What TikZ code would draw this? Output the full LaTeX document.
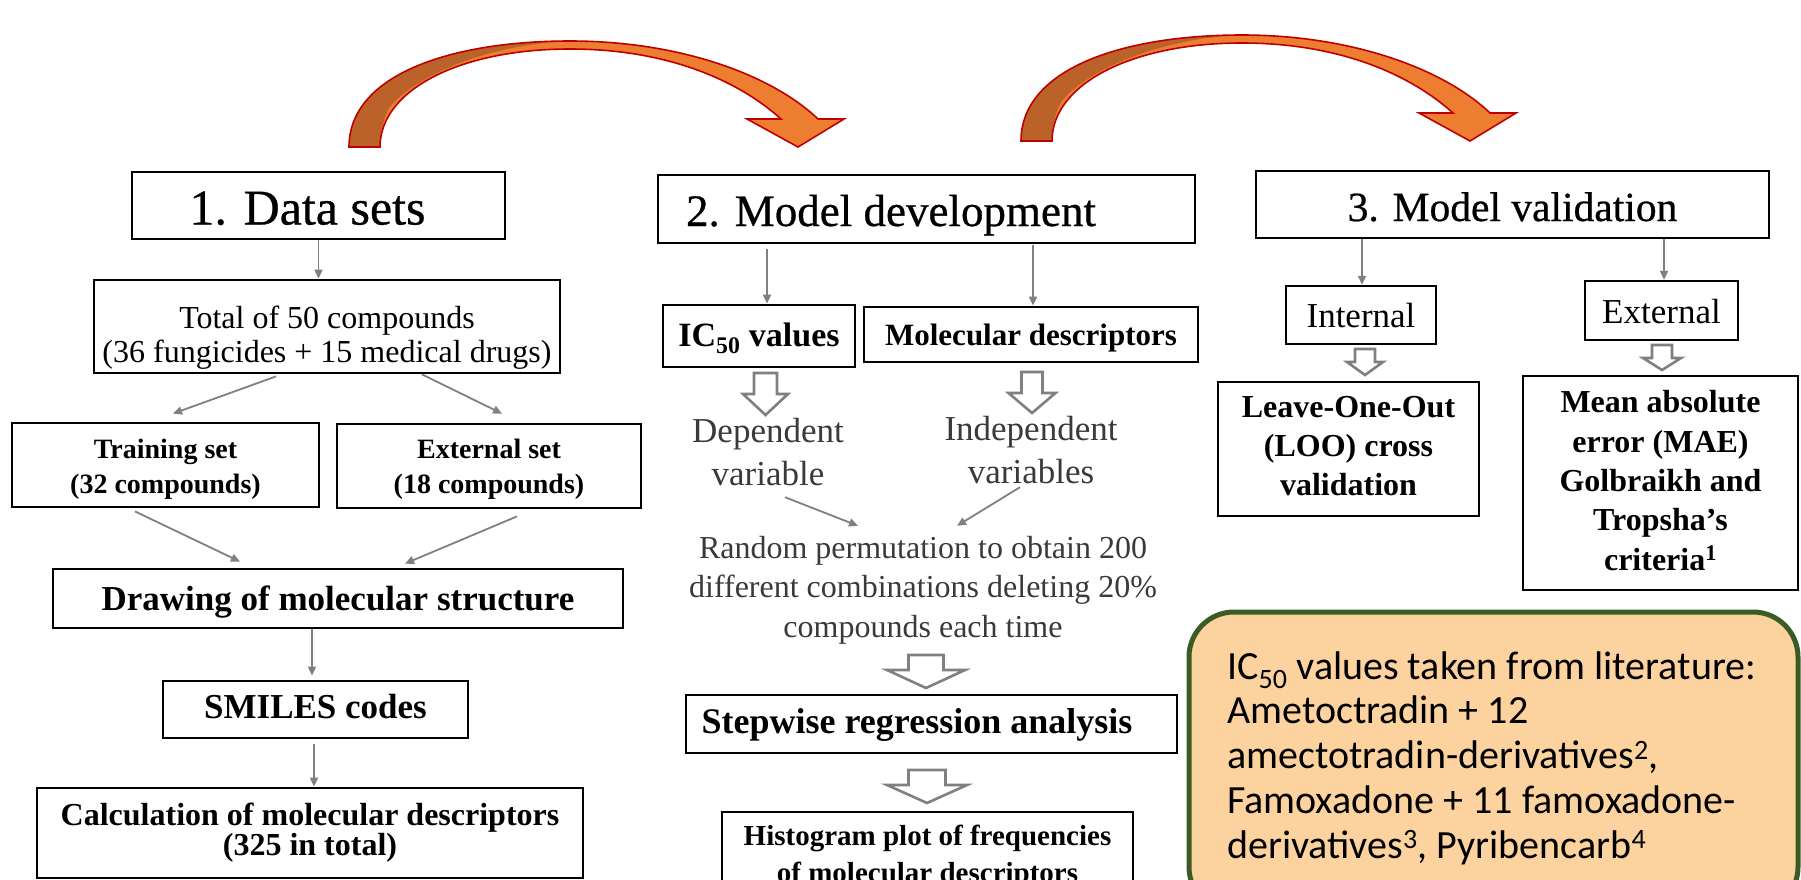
\documentclass[tikz,border=0pt]{standalone}
\usepackage{fontspec}
\setmainfont{Liberation Serif}
\newfontfamily\titlefont{Liberation Serif}[FakeBold=0.6]
\newfontfamily\gillfont{Carlito}
\usetikzlibrary{arrows.meta}
\definecolor{conngray}{HTML}{808080}
\definecolor{arrdark}{HTML}{BA622A}
\definecolor{arrorange}{HTML}{ED7D31}
\definecolor{arrred}{HTML}{C00000}
\definecolor{litfill}{HTML}{FCD39F}
\definecolor{litborder}{HTML}{3B5B25}
\definecolor{softtext}{HTML}{3A3A3A}
\newcommand{\fsz}[2]{\fontsize{#1}{#2}\selectfont}
\newcommand{\curvedarrowshape}[1]{%
  \begin{scope}[shift={#1}]
    \fill[arrorange] (349,147) .. controls (349,75) and (450,41) .. (570,41)
      .. controls (680,41) and (772,75) .. (818,119) -- (844,119) -- (798,147) -- (747,119) -- (781,119)
      .. controls (740,82) and (670,49) .. (570,49) .. controls (460,49) and (380,90) .. (380,147) -- cycle;
    \fill[arrdark] (349,147) .. controls (349,75) and (450,41) .. (570,41)
      .. controls (490,44) and (415,75) .. (389,108) .. controls (382,122) and (380,135) .. (380,147) -- cycle;
    \draw[arrred, line width=1.6pt, line join=miter] (349,147) .. controls (349,75) and (450,41) .. (570,41)
      .. controls (680,41) and (772,75) .. (818,119) -- (844,119) -- (798,147) -- (747,119) -- (781,119)
      .. controls (740,82) and (670,49) .. (570,49) .. controls (460,49) and (380,90) .. (380,147) -- cycle;
  \end{scope}}
\newcommand{\blockdown}[6]{%
  \draw[hollow] (#1-#5,#2) -- (#1+#5,#2) -- (#1+#5,#3) -- (#1+#6,#3) -- (#1,#4) -- (#1-#6,#3) -- (#1-#5,#3) -- cycle;}
\begin{document}
\begin{tikzpicture}[x=1pt,y=-1pt,
  box/.style={draw=black, line width=2.8pt, inner sep=0pt, align=center, fill=white},
  thinbox/.style={box, line width=2.3pt},
  txt/.style={inner sep=0pt, align=center},
  conn/.style={draw=conngray, line width=1.8pt, -{Triangle[length=9pt,width=8pt]}},
  hollow/.style={draw=conngray, line width=2.6pt, fill=white, line join=miter},
]
\useasboundingbox (0,0) rectangle (1801,879);
\clip (0,0) rectangle (1801,879);
\fill[white] (0,0) rectangle (1801,879);

% big curved arrows
\curvedarrowshape{(0,0)}
\curvedarrowshape{(672,-6)}

% ---------- column 1 ----------
\node[box, minimum width=373pt, minimum height=67pt, text height=38pt, text depth=0pt, font=\titlefont\fsz{50}{60}] (ds) at (318.5,205.5) {1. Data sets\hspace*{22pt}};
\node[box, minimum width=466pt, minimum height=93pt, text height=71pt, text depth=0pt, font=\fsz{32}{34}] (total) at (327,326.5) {Total of 50 compounds\\(36 fungicides + 15 medical drugs)};
\node[box, minimum width=307pt, minimum height=84pt, text height=56pt, text depth=0pt, font=\bfseries\fsz{28}{35}] (train) at (165.5,465) {Training set\\(32 compounds)};
\node[box, minimum width=304pt, minimum height=84pt, text height=54pt, text depth=0pt, font=\bfseries\fsz{28}{35}] (ext) at (489,466) {External set\\(18 compounds)};
\node[box, minimum width=570pt, minimum height=59pt, text height=23pt, text depth=0pt, font=\bfseries\fsz{35}{42}] (drawing) at (338,598.5) {Drawing of molecular structure};
\node[box, minimum width=305pt, minimum height=57pt, text height=17pt, text depth=0pt, font=\bfseries\fsz{35}{42}] (smiles) at (315.5,709.5) {SMILES codes};
\node[box, minimum width=546pt, minimum height=90pt, text height=44pt, text depth=0pt, font=\bfseries\fsz{32}{30}] (calc) at (310,833) {Calculation of molecular descriptors\\(325 in total)};

\draw[conn] (ds.south) -- (ds.south |- total.north);
\draw[conn] ([xshift=-51pt,yshift=-2pt]total.south) -- ([xshift=7.5pt,yshift=8pt]train.north);
\draw[conn] ([xshift=95pt]total.south) -- ([xshift=13pt,yshift=9pt]ext.north);
\draw[conn] ([xshift=-30.5pt,yshift=-3pt]train.south) -- ([xshift=-98pt,yshift=6pt]drawing.north);
\draw[conn] ([xshift=28pt,yshift=-7pt]ext.south) -- ([xshift=67pt,yshift=4pt]drawing.north);
\draw[conn] ([xshift=-26pt]drawing.south) -- ([xshift=-3.5pt,yshift=4pt]smiles.north);
\draw[conn] ([xshift=-1.5pt,yshift=-5pt]smiles.south) -- ([xshift=4pt]calc.north);

% ---------- column 2 ----------
\node[box, minimum width=537pt, minimum height=68pt, text height=34pt, text depth=0pt, font=\titlefont\fsz{45}{54}] (md) at (926.5,209) {2. Model development\hspace*{71pt}};
\node[box, minimum width=192pt, minimum height=62pt, text height=21pt, text depth=0pt, font=\bfseries\fsz{34}{40}] (ic50) at (759,336) {IC\textsubscript{50} values};
\node[box, minimum width=334pt, minimum height=55pt, text height=21pt, text depth=0pt, font=\bfseries\fsz{31}{38}] (mdesc) at (1031,334.5) {Molecular descriptors};
\node[txt, anchor=base, text height=69pt, text depth=2pt, font=\fsz{35}{43}, text=softtext] (dep) at (768,485) {Dependent\\variable};
\node[txt, anchor=base, text height=67pt, text depth=2pt, font=\fsz{35}{43}, text=softtext] (indep) at (1031,483) {Independent\\variables};
\node[txt, anchor=base, text height=103pt, text depth=7pt, font=\fsz{32}{39.5}, text=softtext] (random) at (923,637) {Random permutation to obtain 200\\different combinations deleting 20\%\\compounds each time};
\node[box, minimum width=491pt, minimum height=58pt, text height=18pt, text depth=0pt, font=\bfseries\fsz{36}{42}] (stepreg) at (931.5,724) {Stepwise regression analysis\hspace*{29pt}};
\node[box, minimum width=411pt, minimum height=88pt, text height=52pt, text depth=0pt, font=\bfseries\fsz{29}{37}] (hist) at (927.5,856) {Histogram plot of frequencies\\of molecular descriptors};

\draw[conn] ([xshift=-159.5pt,yshift=-5pt]md.south) -- ([xshift=8pt]ic50.north);
\draw[conn] ([xshift=106.5pt,yshift=-1pt]md.south) -- ([xshift=2pt]mdesc.north);
\draw[conn] ([xshift=17pt,yshift=-10pt]dep.south) -- ([xshift=-65pt,yshift=8pt]random.north);
\draw[conn] ([xshift=-11pt,yshift=-2pt]indep.south) -- ([xshift=34pt,yshift=8pt]random.north);

\blockdown{765.5}{373}{394}{415}{11.5}{22.5}
\blockdown{1032}{372}{393}{413}{10.5}{23.5}
\blockdown{926}{655}{670}{688}{17.5}{39}
\blockdown{927}{770}{785}{803}{18.5}{40}

% ---------- column 3 ----------
\node[box, minimum width=513pt, minimum height=67pt, text height=33pt, text depth=0pt, font=\titlefont\fsz{41.5}{50}] (mv) at (1512.5,204.5) {3. Model validation};
\node[thinbox, minimum width=150pt, minimum height=58pt, text height=24pt, text depth=0pt, font=\fsz{35}{42}] (internal) at (1361,315) {Internal};
\node[thinbox, minimum width=153pt, minimum height=59pt, text height=25pt, text depth=0pt, font=\fsz{35}{42}] (external) at (1661.5,310.5) {External};
\node[thinbox, minimum width=261pt, minimum height=134pt, text height=92pt, text depth=0pt, font=\bfseries\fsz{32}{39}] (loo) at (1348.5,449) {Leave-One-Out\\(LOO) cross\\validation};
\node[thinbox, minimum width=275pt, minimum height=214pt, text height=174pt, text depth=0pt, font=\bfseries\fsz{32}{39.3}] (mae) at (1660.5,483) {Mean absolute\\error (MAE)\\Golbraikh and\\Tropsha’s\\criteria\textsuperscript{1}};

\draw[conn] ([xshift=-150.5pt]mv.south) -- ([xshift=1pt]internal.north);
\draw[conn] ([xshift=151.5pt]mv.south) -- ([xshift=2.5pt]external.north);

\blockdown{1365}{349}{362}{375}{10}{18}
\blockdown{1662}{345}{358}{370}{10}{19}

% ---------- literature box ----------
\node[draw=litborder, line width=5pt, fill=litfill, rounded corners=45pt, minimum width=609pt, minimum height=300pt, inner sep=0pt] (litbox) at (1493.5,762) {};
\node[txt, anchor=base west, align=left, font=\gillfont\fsz{40}{44.75}] (littext) at (1227,858) {IC\textsubscript{50} values taken from literature:\\Ametoctradin + 12\\amectotradin-derivatives\textsuperscript{2},\\Famoxadone + 11 famoxadone-\\derivatives\textsuperscript{3}, Pyribencarb\textsuperscript{4}};
\end{tikzpicture}
\end{document}
